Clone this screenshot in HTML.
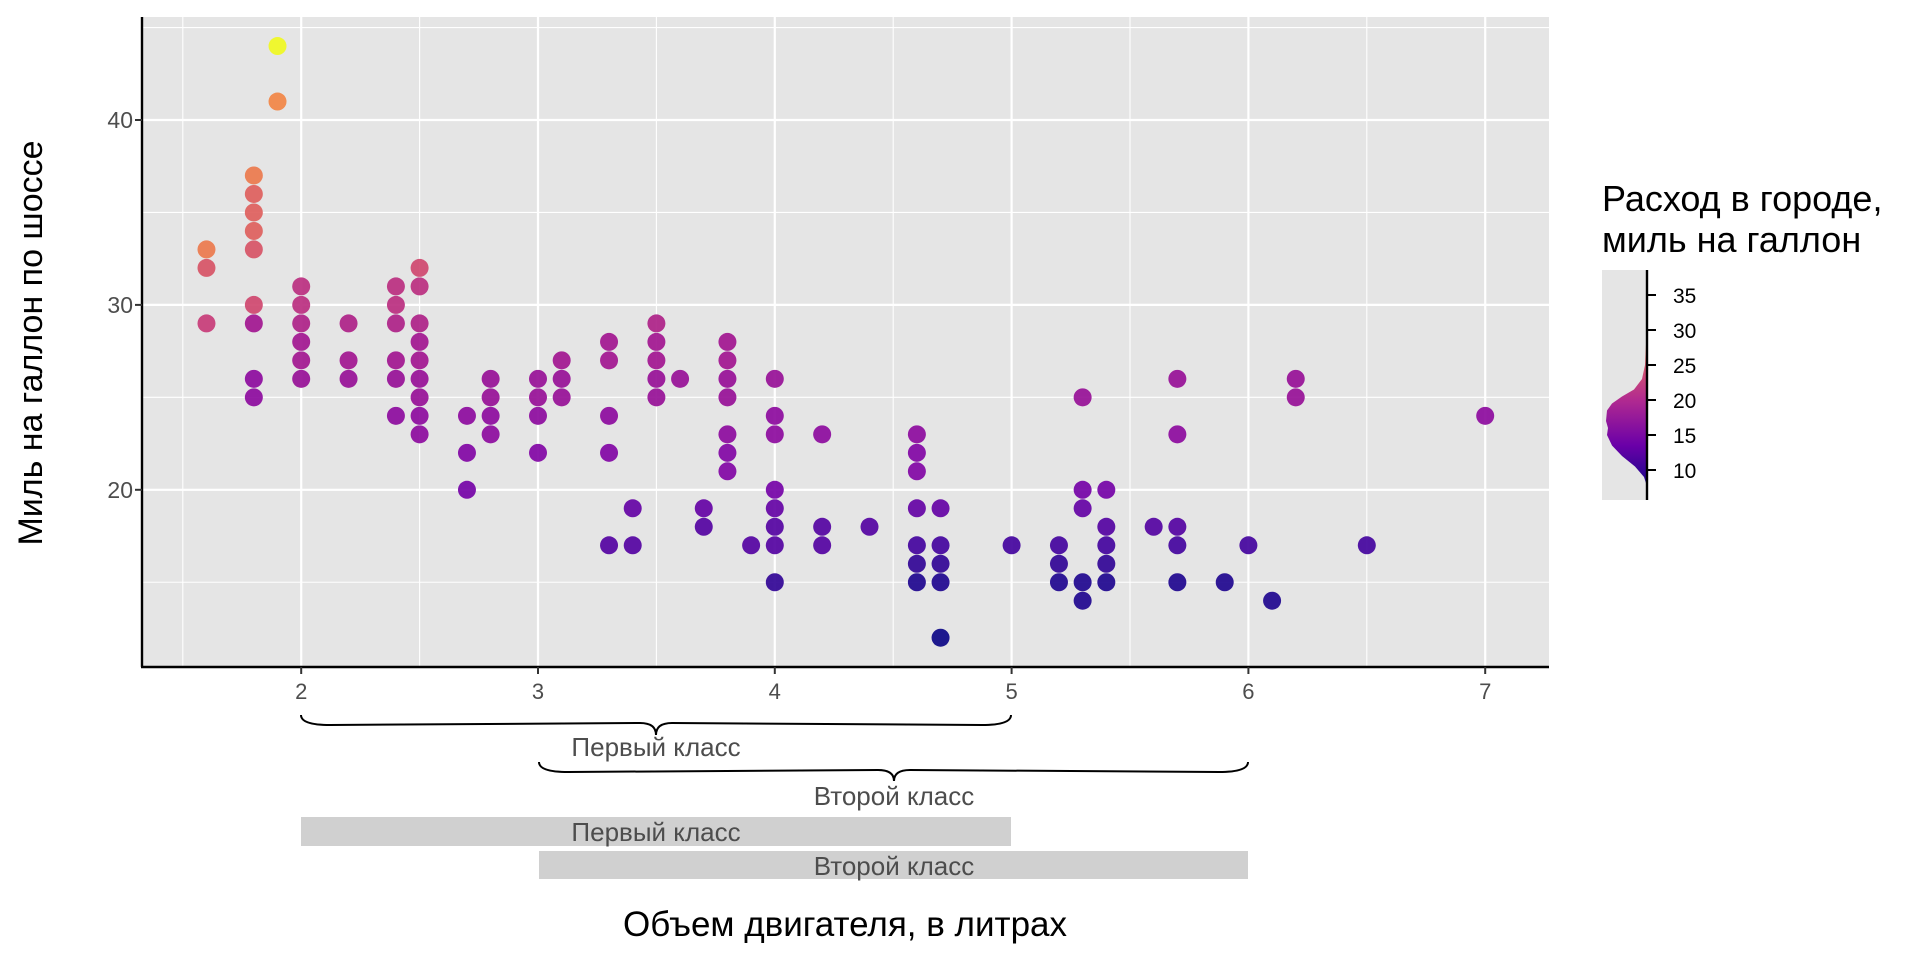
<!DOCTYPE html>
<html><head><meta charset="utf-8"><style>
html,body{margin:0;padding:0;background:#fff;}
svg{display:block;font-family:"Liberation Sans",sans-serif;}
</style></head><body>
<svg id="s" width="1920" height="960" xmlns="http://www.w3.org/2000/svg">
<defs>
<linearGradient id="dg" gradientUnits="userSpaceOnUse" x1="0" y1="491" x2="0" y2="309">
<stop offset="0" stop-color="#0d0887"/>
<stop offset="0.25" stop-color="#6a00a8"/>
<stop offset="0.5" stop-color="#b12a90"/>
<stop offset="0.75" stop-color="#e16462"/>
<stop offset="1" stop-color="#fca636"/>
</linearGradient>
</defs>
<rect x="142" y="17" width="1407" height="649" fill="#e5e5e5"/>
<g id="grid"></g>
<g id="pts"></g>
<line x1="142" y1="17" x2="142" y2="667" stroke="#000" stroke-width="2.4"/>
<line x1="141" y1="667" x2="1549" y2="667" stroke="#000" stroke-width="2.4"/>
<g font-size="23" fill="#4d4d4d" text-anchor="end">
<text x="133" y="128">40</text><text x="133" y="313">30</text><text x="133" y="498">20</text>
</g>
<g font-size="22" fill="#4d4d4d" text-anchor="middle" id="xl"></g>
<g fill="none" stroke="#000" stroke-width="2">
<path d="M301,715 Q301,725 330,725 L640,723 Q656,723 656,735 Q656,723 672,723 L982,725 Q1011,725 1011,715"/>
<path d="M539,762 Q539,772 568,772 L878,770 Q894,770 894,781 Q894,770 910,770 L1219,772 Q1248,772 1248,762"/>
</g>
<g font-size="26" fill="#4d4d4d" text-anchor="middle">
<text x="656" y="756">Первый класс</text>
<text x="894" y="805">Второй класс</text>
</g>
<rect x="301" y="817" width="710" height="29" fill="#d0d0d0"/>
<rect x="539" y="851" width="709" height="28" fill="#d0d0d0"/>
<g font-size="26" fill="#4d4d4d" text-anchor="middle">
<text x="656" y="841">Первый класс</text>
<text x="894" y="875">Второй класс</text>
</g>
<text x="845" y="936" font-size="35" text-anchor="middle">Объем двигателя, в литрах</text>
<text transform="translate(42,343) rotate(-90)" font-size="34" text-anchor="middle">Миль на галлон по шоссе</text>
<text x="1602" y="211" font-size="36">Расход в городе,</text>
<text x="1602" y="252" font-size="36">миль на галлон</text>
<rect x="1602" y="270" width="45" height="230" fill="#e5e5e5"/>
<polygon id="dens" fill="url(#dg)"/>
<line x1="1647" y1="270" x2="1647" y2="500" stroke="#000" stroke-width="2.4"/>
<g id="lt" font-size="21" fill="#000"></g>
</svg>
<script>
const NS="http://www.w3.org/2000/svg";
const X=v=>301.2+(v-2)*236.8, Y=v=>489.8-(v-20)*18.49;
function el(p,t,a){const e=document.createElementNS(NS,t);for(const k in a)e.setAttribute(k,a[k]);p.appendChild(e);return e;}
const g=document.getElementById('grid');
for(let v=1.5;v<=7.3;v+=0.5){const maj=Math.abs(v-Math.round(v))<0.01;el(g,'line',{x1:X(v),x2:X(v),y1:17,y2:666,stroke:'#fff','stroke-width':maj?2.2:1.1});}
for(let v=15;v<=45;v+=5){const maj=v%10==0;el(g,'line',{x1:142,x2:1549,y1:Y(v),y2:Y(v),stroke:'#fff','stroke-width':maj?2.2:1.1});}
const xl=document.getElementById('xl');
for(let v=2;v<=7;v++){el(xl,'line',{x1:X(v),x2:X(v),y1:667,y2:674,stroke:'#333','stroke-width':2});const t=el(xl,'text',{x:X(v),y:699});t.textContent=v;}
for(const v of [20,30,40])el(g.parentNode,'line',{x1:135,x2:142,y1:Y(v),y2:Y(v),stroke:'#333','stroke-width':2});
const stops=[[0,[13,8,135]],[0.13,[75,3,161]],[0.25,[125,3,168]],[0.38,[160,20,145]],[0.5,[200,60,120]],[0.63,[225,100,90]],[0.75,[245,140,65]],[0.88,[253,195,40]],[1,[240,249,33]]];
function col(t){t=Math.max(0,Math.min(1,t));for(let i=1;i<stops.length;i++){if(t<=stops[i][0]){const a=stops[i-1],b=stops[i],f=(t-a[0])/(b[0]-a[0]);return 'rgb('+a[1].map((c,j)=>Math.round(c+(b[1][j]-c)*f)).join(',')+')';}}}
function cty(h){const m={44:35,41:28,37:27,36:25,35:25,34:25,33:24,32:23,31:21,30:21,29:20,28:19,27:19,26:18,25:18,24:17,23:17,22:16,21:16,20:15,19:14,18:13,17:13,16:12,15:11,14:11,12:9};return m[h];}
const D={1.6:[33,32,29],1.8:[37,36,35,34,33,30,29,26,25],1.9:[44,41],2.0:[31,30,29,28,27,26],2.2:[29,27,26],2.4:[31,30,29,27,26,24],2.5:[32,31,29,28,27,26,25,24,23],2.7:[24,22,20],2.8:[26,25,24,23],3.0:[26,25,24,22],3.1:[27,26,25],3.3:[28,27,24,22,17],3.4:[19,17],3.5:[29,28,27,26,25],3.6:[26],3.7:[19,18],3.8:[28,27,26,25,23,22,21],3.9:[17],4.0:[26,24,23,20,19,18,17,15],4.2:[23,18,17],4.4:[18],4.6:[23,22,21,19,17,16,15],4.7:[19,17,16,15,12],5.0:[17],5.2:[17,16,15],5.3:[25,20,19,15,14],5.4:[20,18,17,16,15],5.6:[18],5.7:[26,23,18,17,15],5.9:[15],6.0:[17],6.1:[14],6.2:[26,25],6.5:[17],7.0:[24]};
const pts=document.getElementById('pts');
for(const k in D)for(const h of D[k]){let c=cty(h);const d=parseFloat(k);
if(d==1.6)c={33:27,32:24,29:22}[h];
if(d==1.8&&h==30)c=23;
if(d==1.8&&h<=29)c=h==29?19:17; if(d>=4.6&&h<=17)c-=1;
el(pts,'circle',{cx:X(d),cy:Y(h),r:9,fill:col((c-9)/26),'fill-opacity':0.92});}
const LY=v=>400-(v-20)*7;
const dp=[[1647,7.7],[1644,9],[1635,10.5],[1622,12],[1612,13.5],[1607,15],[1608,16],[1606,17],[1607,18.5],[1612,19.5],[1622,20.5],[1634,21.5],[1642,23],[1645,25],[1646,28],[1647,30]];
document.getElementById('dens').setAttribute('points',dp.map(p=>p[0]+','+LY(p[1])).join(' '));
const lt=document.getElementById('lt');
for(let v=10;v<=35;v+=5){el(lt,'line',{x1:1647,x2:1656,y1:LY(v),y2:LY(v),stroke:'#000','stroke-width':2});const t=el(lt,'text',{x:1673,y:LY(v)+8});t.textContent=v;}
</script>
</body></html>
